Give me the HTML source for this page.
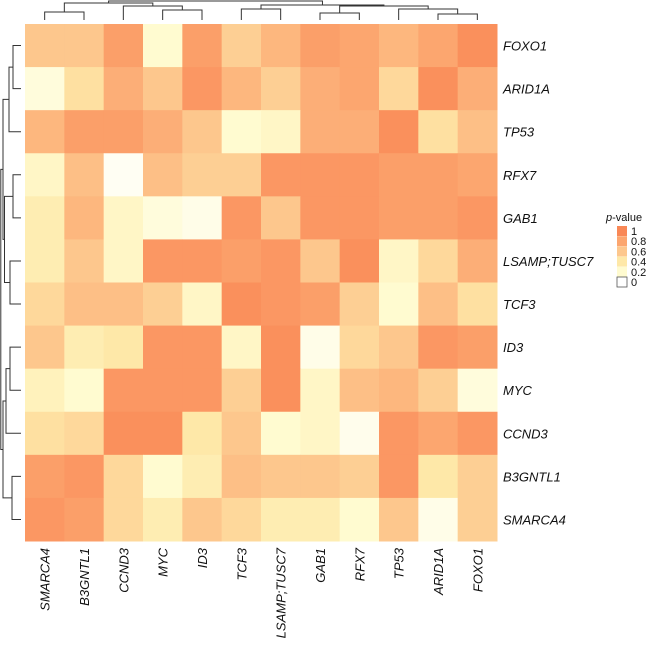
<!DOCTYPE html>
<html><head><meta charset="utf-8"><style>
body{margin:0;background:#fff;}
svg text{font-family:"Liberation Sans",Arial,sans-serif;}
</style></head><body>
<svg id="chart" width="655" height="649">
<g id="den" stroke="#333" stroke-width="1" fill="none"></g>
<g id="cells"></g>
<g id="rlabels"></g>
<g id="clabels"></g>
<g id="legend"></g>
</svg>
<script>
const rowLabels=["FOXO1","ARID1A","TP53","RFX7","GAB1","LSAMP;TUSC7","TCF3","ID3","MYC","CCND3","B3GNTL1","SMARCA4"];
const colLabels=["SMARCA4","B3GNTL1","CCND3","MYC","ID3","TCF3","LSAMP;TUSC7","GAB1","RFX7","TP53","ARID1A","FOXO1"];
const values=[
[.6,.6,.85,.2,.85,.55,.7,.85,.8,.7,.8,.95],
[.15,.45,.75,.6,.9,.7,.55,.75,.8,.5,.95,.75],
[.7,.85,.85,.75,.6,.2,.25,.75,.75,.95,.45,.65],
[.25,.65,.05,.65,.55,.55,.9,.9,.9,.85,.85,.8],
[.35,.7,.25,.15,.1,.9,.6,.9,.9,.85,.85,.9],
[.35,.6,.25,.9,.9,.85,.9,.6,.95,.25,.5,.75],
[.5,.65,.65,.55,.25,.95,.9,.85,.55,.2,.65,.45],
[.6,.35,.4,.9,.9,.25,.95,.1,.5,.6,.9,.85],
[.3,.2,.9,.9,.9,.55,.95,.25,.65,.7,.55,.15],
[.45,.5,.95,.95,.4,.6,.2,.25,.08,.9,.8,.9],
[.85,.9,.5,.2,.35,.65,.6,.6,.55,.9,.4,.55],
[.9,.85,.5,.35,.6,.5,.35,.35,.2,.6,.1,.55]];
const legendTicks=[1,0.8,0.6,0.4,0.2,0];
// dendrogram merges: [leftIndexOrNode, rightIndexOrNode, height]
const colMerges=[["0","1",12],["3","4",10],["2","m1",6],["m0","m2",3],["5","6",9],["10","11",14],["9","m5",9],["7","8",13],["m7","m6",6],["m4","m8",5],["m3","m9",1]];
const rowMerges=[["0","1",13],["2","m0",9],["3","4",13],["5","6",10],["m2","m3",4.5],["m1","m4",3],["7","8",10],["9","m6",6],["10","11",12],["m7","m8",3],["m5","m9",0.8]];

const X0=25,X1=497,Y0=24,Y1=541;
const cw=(X1-X0)/colLabels.length, ch=(Y1-Y0)/rowLabels.length;
const xs=i=>X0+i*cw, ys=j=>Y0+j*ch;
const stops=[[0,[255,255,255]],[0.2,[255,251,208]],[0.4,[254,232,168]],[0.6,[253,199,141]],[0.8,[252,166,111]],[1,[249,136,86]]];
function color(v){for(let k=1;k<stops.length;k++){if(v<=stops[k][0]){const a=stops[k-1],b=stops[k],t=(v-a[0])/(b[0]-a[0]);return "rgb("+a[1].map((c,i)=>Math.round(c+(b[1][i]-c)*t)).join(",")+")";}}return "rgb(249,136,86)";}
const NS="http://www.w3.org/2000/svg";
function mk(t,p,at){const e=document.createElementNS(NS,t);for(const k in at)e.setAttribute(k,at[k]);p.appendChild(e);return e;}
const cells=document.getElementById("cells");
values.forEach((row,r)=>row.forEach((v,c)=>{
 const e=mk("rect",cells,{x:xs(c),y:ys(r),width:cw+0.5,height:ch+0.5,fill:color(v)});
 
 
}));
const rl=document.getElementById("rlabels");
rowLabels.forEach((l,r)=>{const e=mk("text",rl,{x:503,y:ys(r)+ch/2+5,"font-size":"13","font-style":"italic",fill:"#111"});e.textContent=l;
 
 });
const cl=document.getElementById("clabels");
colLabels.forEach((l,c)=>{const x=xs(c)+cw/2+5,y=548;const e=mk("text",cl,{x:x,y:y,"font-size":"13","font-style":"italic",fill:"#111","text-anchor":"end",transform:`rotate(-90 ${x} ${y})`});e.textContent=l;
 
 });
const den=document.getElementById("den");
function drawDen(merges,horizontal){
 const nodes={};
 const pos=i=>horizontal?xs(i)+cw/2:ys(i)+ch/2;
 const leafH=horizontal?Y0-4:X0-4;
 const get=k=>k[0]==="m"?nodes[k]:{p:pos(+k),h:leafH};
 const hmap=h=>horizontal?h:h;
 merges.forEach((m,i)=>{const a=get(m[0]),b=get(m[1]),h=hmap(m[2]);
  let d;
  if(horizontal)d=`M${a.p},${a.h}V${h}H${b.p}V${b.h}`;
  else d=`M${a.h},${a.p}H${h}V${b.p}H${b.h}`;
  const e=mk("path",den,{d:d});
  
  
  nodes["m"+i]={p:(a.p+b.p)/2,h:h};});
}
drawDen(colMerges,true);drawDen(rowMerges,false);
const lg=document.getElementById("legend");
const t=mk("text",lg,{x:606,y:221,"font-size":"11",fill:"#111"});t.innerHTML='<tspan font-style="italic">p</tspan>-value';
legendTicks.forEach((v,i)=>{const y=226+i*10.2;
 const r=mk("rect",lg,{x:617,y:y,width:10,height:10,fill:color(v),stroke:v===0?"#555":"none","stroke-width":0.8});
 
 
 const tx=mk("text",lg,{x:631,y:y+9,"font-size":"11",fill:"#111"});tx.textContent=String(v);
 
 });
</script>
</body></html>
